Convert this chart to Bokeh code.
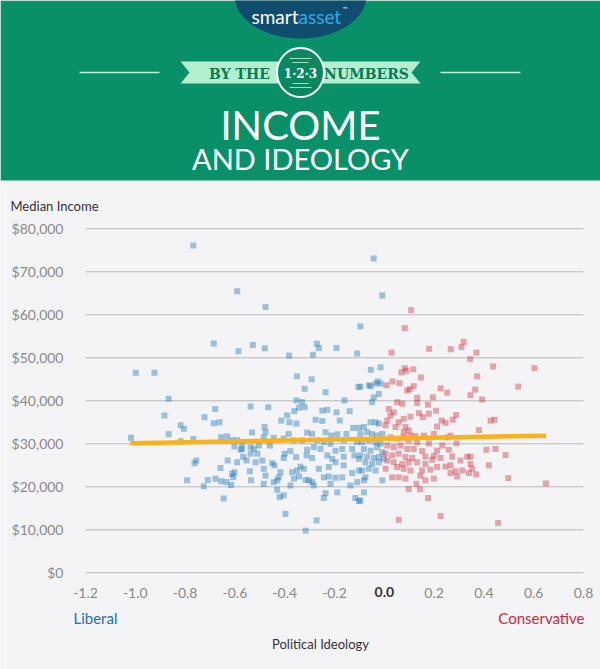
from bokeh.plotting import figure
from bokeh.models import Range1d, FixedTicker, NumeralTickFormatter, Label
from bokeh.embed import file_html
from bokeh.resources import INLINE
from bokeh.core.properties import value

# ---------------- data ----------------
liberal_ideology = [
    -0.767, -0.591, -0.477, -0.685, -0.586, -0.528, -0.480, -0.382, -0.351, -0.998, -0.923,
    -0.043, -0.008, -0.096, -0.271, -0.263, -0.287, -0.192, -0.109, -0.054, -0.015, -0.292,
    -0.026, -0.015, -0.104, -0.055, -0.320,
    -0.062, -0.035, -0.022, -0.042, -0.049, -0.096,
    -0.082, -0.055, -0.035, -0.022,
    -0.096, -0.069, -0.049, -0.029, -0.008,
    -0.089, -0.062, -0.035, -0.015,
    -0.082, -0.055, -0.029, -0.008,
    -0.096, -0.069, -0.042, -0.022, -0.002,
    -0.076, -0.049, -0.022,
    -0.089, -0.062, -0.035,
    -0.076, -0.082, -0.008,
    -0.082, -0.096,
    -0.236, -0.160,
    -0.249, -0.229, -0.192, -0.139,
    -0.276, -0.249, -0.179,
    -0.125, -0.102,
    -0.290, -0.236, -0.213, -0.189, -0.152,
    -0.270, -0.243, -0.216, -0.163, -0.109,
    -0.283, -0.256, -0.196, -0.169, -0.129,
    -0.229, -0.209, -0.163, -0.120, -0.102,
    -0.290, -0.263, -0.223, -0.196, -0.163,
    -0.129, -0.102,
    -0.243, -0.223, -0.196, -0.169,
    -0.290, -0.283, -0.216, -0.136, -0.109,
    -0.189, -0.236, -0.243,
    -0.116, -0.102,
    -0.272,
    -0.537, -0.466,
    -0.353, -0.330, -0.343, -0.320, -0.361,
    -0.390, -0.414, -0.381, -0.353,
    -0.481, -0.531, -0.477, -0.310,
    -0.484, -0.444, -0.404, -0.384, -0.364, -0.330,
    -0.571, -0.537, -0.504, -0.460,
    -0.571, -0.524,
    -0.510, -0.537, -0.567, -0.400, -0.377, -0.310,
    -0.404, -0.354, -0.312,
    -0.553, -0.517, -0.490, -0.450, -0.441,
    -0.337, -0.350, -0.323,
    -0.484, -0.477, -0.540,
    -0.417, -0.370, -0.343, -0.316,
    -0.535, -0.484, -0.444, -0.424, -0.430,
    -0.377, -0.363, -0.303,
    -0.430, -0.420, -0.404,
    -0.397, -0.316,
    -0.866, -0.883, -0.679, -0.722, -0.685, -0.662, -0.818, -0.805, -0.866, -0.818,
    -0.767, -0.655, -0.631, -0.611, -0.591, -0.602, -0.577, -0.755, -0.762, -0.629,
    -0.591, -0.658, -0.611, -0.602, -0.607, -0.792, -0.709, -0.678, -0.655, -0.634,
    -0.615, -0.725, -0.645, -1.017,
]
liberal_income = [
    76100, 65500, 61800, 53300, 51500, 53000, 52200, 50500, 45700, 46500, 46500,
    73100, 64500, 57300, 53300, 52300, 50700, 52300, 51000, 47200, 47800, 45000,
    44500, 44000, 43200, 43400, 42800,
    43600, 44000, 41600, 40800, 39700, 43300,
    33900, 35000, 35000, 34700,
    32300, 32700, 32300, 31900, 32300,
    30400, 30800, 30400, 30000,
    28800, 28400, 29200, 28000,
    27300, 27000, 26700, 26900, 26500,
    25700, 25300, 25700,
    23800, 24200, 23800,
    22200, 21500, 21500,
    18700, 16800,
    42000, 40100,
    37700, 37900, 37300, 37600,
    35600, 35300, 35400,
    33700, 33700,
    32300, 32700, 31900, 32200, 32300,
    30800, 30400, 30000, 30800, 30400,
    29200, 28800, 28400, 28800, 28800,
    27300, 26500, 27000, 27300, 26500,
    26700, 24200, 24600, 25700, 25000,
    23200, 23800,
    22200, 22400, 22100, 22200,
    21100, 20300, 20700, 20300, 21100,
    18700, 18500, 17400,
    17400, 16700,
    12200,
    38700, 38500,
    40100, 39700, 38400, 38500, 37600,
    36600, 35400, 35000, 34700,
    33900, 32600, 32700, 32600,
    31500, 31400, 31200, 32300, 30800, 30800,
    30000, 29200, 29600, 29600,
    28800, 28800,
    27700, 27700, 27000, 27700, 28300, 28600,
    26700, 26900, 27300,
    26100, 25700, 26100, 25500, 25000,
    24700, 23800, 24200,
    24200, 22600, 23600,
    23400, 23400, 22400, 21600,
    21500, 20700, 21100, 22200, 21500,
    20300, 21900, 21500,
    19300, 17600, 18000,
    13700, 9800,
    40500, 36600, 38100, 36200, 34800, 35000, 34300, 33500, 32200, 30600,
    31100, 31500, 31700, 30800, 30800, 29400, 28700, 26100, 25500, 26100,
    25700, 24400, 23000, 23400, 22200, 21500, 21600, 21900, 21300, 21100,
    20400, 20100, 17300, 31400,
]

conservative_ideology = [
    0.108, 0.082, 0.029, 0.180, 0.267, 0.310, 0.319, 0.370, 0.345, 0.437, 0.603, 0.373,
    0.082, 0.089, 0.069, 0.116, 0.147, 0.033, 0.061, 0.009, 0.118, 0.538, 0.226, 0.365, 0.102,
    0.346, 0.393, 0.427, 0.443, 0.380, 0.410, 0.447, 0.487, 0.346, 0.346, 0.353, 0.420,
    0.369, 0.498, 0.649, 0.457,
    0.253, 0.195, 0.132, 0.132, 0.175, 0.208, 0.105, 0.139, 0.155, 0.179, 0.289, 0.230,
    0.246, 0.275, 0.212,
    0.105, 0.125, 0.159, 0.199, 0.253, 0.266,
    0.132, 0.179, 0.233, 0.290,
    0.118, 0.152, 0.212, 0.259,
    0.112, 0.165, 0.199, 0.226, 0.273, 0.306, 0.333,
    0.132, 0.165, 0.192,
    0.212, 0.246, 0.266,
    0.105, 0.152, 0.185,
    0.286, 0.313, 0.340,
    0.145, 0.165, 0.199,
    0.266, 0.293,
    0.129, 0.143, 0.176, 0.226,
    0.092, 0.052, 0.072, 0.018, 0.038, 0.025, 0.012, 0.058, 0.078, 0.005, 0.045, 0.085,
    0.078, 0.098,
    0.025, 0.052, 0.078, 0.098,
    0.012, 0.038, 0.065, 0.092,
    0.005, 0.032, 0.058, 0.085,
    0.012, 0.038, 0.072, 0.098,
    0.005, 0.052, 0.078,
    0.032, 0.058, 0.085,
    0.098, 0.058,
]
conservative_income = [
    61100, 56900, 51200, 52100, 52000, 52500, 53700, 51200, 49700, 48000, 47600, 45700,
    47600, 47000, 46600, 47300, 45400, 44500, 44100, 43600, 43400, 43300, 42900, 42600, 42700,
    41300, 40300, 35400, 35600, 33200, 28600, 28800, 27400, 27000, 25300, 24200, 25000,
    22900, 22000, 20800, 11600,
    41900, 40800, 40700, 39500, 39100, 37700, 36300, 37100, 36200, 37000, 36700, 35400,
    34900, 35600, 34000,
    31900, 31800, 31900, 32300, 31500, 31900,
    30400, 30100, 29600, 30100,
    28800, 28300, 28400, 28600,
    26700, 27000, 27200, 26700, 27000, 26100, 27000,
    25700, 25300, 26300,
    24600, 24700, 25000,
    23800, 23800, 24000,
    23600, 23800, 23200,
    22600, 21500, 21900,
    23200, 22400,
    20700, 19400, 17400, 13200,
    42400, 39700, 39300, 38100, 37300, 36600, 35400, 35000, 35800, 34300, 33900, 33900,
    32700, 33100,
    31500, 31200, 31500, 30800,
    29600, 29200, 29600, 28800,
    27700, 27300, 27700, 26900,
    26100, 25700, 25300, 25700,
    24200, 24600, 24200,
    22200, 22200, 21900,
    19500, 12300,
]

trend_ideology = [-1.02, 0.65]
trend_income = [30100, 31900]

income_ticks = [0, 10000, 20000, 30000, 40000, 50000, 60000, 70000, 80000]
ideology_ticks = [-1.2, -1.0, -0.8, -0.6, -0.4, -0.2, 0.0, 0.2, 0.4, 0.6, 0.8]
x_min, x_max = -1.2, 0.8
y_min, y_max = 0, 80000

# ---------------- layout geometry (pixels of the 600x669 page) ----------------
W, H = 600, 669
CH_L, CH_R, CH_T, CH_B = 85, 583, 228.3, 572.3   # chart area on the page
x_per_px = (x_max - x_min) / (CH_R - CH_L)
y_per_px = (y_max - y_min) / (CH_B - CH_T)
x_range = Range1d(x_min - CH_L * x_per_px, x_max + (W - CH_R) * x_per_px)
y_range = Range1d(y_min - (H - CH_B) * y_per_px, y_max + CH_T * y_per_px)

GREEN = "#0a9069"
BG = "#f4f4f6"
FONT = value("Lato")
PX = dict(x_range_name="px", y_range_name="py")

p = figure(width=W, height=H, x_range=x_range, y_range=y_range,
           output_backend="svg", toolbar_location=None, min_border=0)
p.extra_x_ranges = {"px": Range1d(0, W)}
p.extra_y_ranges = {"py": Range1d(H, 0)}
p.background_fill_color = BG
p.border_fill_color = BG
p.outline_line_color = None
p.grid.visible = False

# ---------------- header (page-pixel coordinates) ----------------
p.quad(left=[0], right=[W], top=[0], bottom=[180], fill_color=GREEN, line_color=None, **PX)
p.ellipse(x=[300], y=[-5], width=[132], height=[86], fill_color="#0f4c6d",
          line_color=None, **PX)
p.text(x=[298], y=[16], text=["smart"], text_align="right", text_baseline="middle",
       text_font=FONT, text_font_size="19px", text_color="white", **PX)
p.text(x=[298], y=[16], text=["asset"], text_align="left", text_baseline="middle",
       text_font=FONT, text_font_size="19px", text_color="#35aae2", **PX)
p.text(x=[342], y=[8], text=["\u2122"], text_align="left", text_baseline="middle",
       text_font=FONT, text_font_size="6px", text_color="white", **PX)

p.segment(x0=[79, 440], y0=[72, 72], x1=[159, 520], y1=[72, 72],
          line_color="#c4efdc", line_width=1.5, **PX)
p.patch(x=[180, 420, 411, 420, 180, 189], y=[61, 61, 72, 83, 83, 72],
        fill_color="#b3efcf", line_color=None, **PX)
p.text(x=[239], y=[73], text=["BY THE"], text_align="center", text_baseline="middle",
       text_font=value("DejaVu Serif"), text_font_style="bold", text_font_size="14px",
       text_color="#0c7a55", **PX)
p.text(x=[366], y=[73], text=["NUMBERS"], text_align="center", text_baseline="middle",
       text_font=value("DejaVu Serif"), text_font_style="bold", text_font_size="14px",
       text_color="#0c7a55", **PX)
p.ellipse(x=[300], y=[72], width=[47], height=[49], fill_color="#0b875f",
          line_color="white", line_width=2, **PX)
p.segment(x0=[289, 292, 292, 289], y0=[58, 62, 83, 87], x1=[311, 308, 308, 311],
          y1=[58, 62, 83, 87], line_color="#9fe0c2", line_width=1, **PX)
p.text(x=[300], y=[73], text=["1\u00b72\u00b73"], text_align="center", text_baseline="middle",
       text_font=value("DejaVu Serif"), text_font_style="bold", text_font_size="12px",
       text_color="white", **PX)

p.text(x=[300], y=[124], text=["INCOME"], text_align="center", text_baseline="middle",
       text_font=FONT, text_font_size="40px", text_color="white", **PX)
p.text(x=[300], y=[158], text=["AND IDEOLOGY"], text_align="center", text_baseline="middle",
       text_font=FONT, text_font_size="29px", text_color="white", **PX)

# ---------------- chart ----------------
p.segment(x0=[x_min] * len(income_ticks), x1=[x_max] * len(income_ticks),
          y0=income_ticks, y1=income_ticks, line_color="#b8b8b8", line_width=1)

p.yaxis.fixed_location = x_min
p.xaxis.fixed_location = y_min
p.yaxis.ticker = FixedTicker(ticks=income_ticks)
p.yaxis.formatter = NumeralTickFormatter(format="$0,0")
p.xaxis.ticker = FixedTicker(ticks=ideology_ticks)
p.xaxis.formatter = NumeralTickFormatter(format="0.0")
p.xaxis.major_label_overrides = {0: " "}
for ax in (p.xaxis, p.yaxis):
    ax.axis_line_color = None
    ax.major_tick_line_color = None
    ax.minor_tick_line_color = None
    ax.major_tick_out = 0
    ax.major_tick_in = 0
    ax.minor_tick_out = 0
    ax.major_label_text_font = "Lato"
    ax.major_label_text_font_size = "14px"
    ax.major_label_text_color = "#8a8a8a"
p.yaxis.major_label_standoff = 22
p.xaxis.major_label_standoff = 11

p.scatter(liberal_ideology, liberal_income, marker="square", size=6,
          fill_color="#1f77b4", fill_alpha=0.42, line_color=None)
p.scatter(conservative_ideology, conservative_income, marker="square", size=6,
          fill_color="#cc2936", fill_alpha=0.4, line_color=None)
p.line(trend_ideology, trend_income, line_color="#fbb119", line_width=4.5)

p.add_layout(Label(x=383.8, y=591, text="0.0", text_align="center", text_baseline="middle",
                   text_font="Lato", text_font_style="bold", text_font_size="14px",
                   text_color="#333333", **PX))
p.add_layout(Label(x=10, y=205, text="Median Income", text_align="left",
                   text_baseline="middle", text_font="Lato", text_font_size="13px",
                   text_color="#333333", **PX))
p.add_layout(Label(x=73, y=617, text="Liberal", text_align="left",
                   text_baseline="middle", text_font="Lato", text_font_size="15px",
                   text_color="#1f6fae", **PX))
p.add_layout(Label(x=584, y=617, text="Conservative", text_align="right",
                   text_baseline="middle", text_font="Lato", text_font_size="15px",
                   text_color="#c9293b", **PX))
p.add_layout(Label(x=320, y=643, text="Political Ideology", text_align="center",
                   text_baseline="middle", text_font="Lato", text_font_size="13px",
                   text_color="#333333", **PX))

open("out.html", "w").write(file_html(p, INLINE))
